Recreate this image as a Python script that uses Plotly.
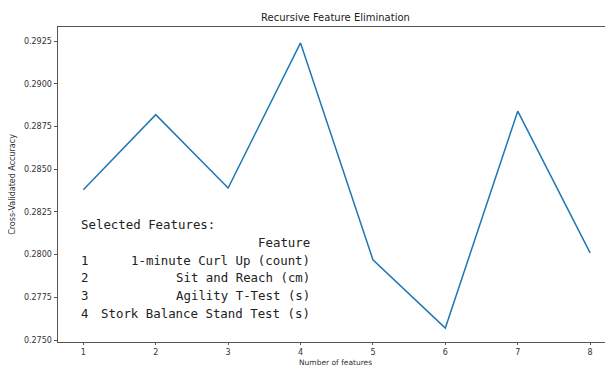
import plotly.graph_objects as go

n_features = [1, 2, 3, 4, 5, 6, 7, 8]
cv_accuracy = [0.2838, 0.2882, 0.2839, 0.2924, 0.2797, 0.2757, 0.2884, 0.2801]
y_ticks = [0.2750, 0.2775, 0.2800, 0.2825, 0.2850, 0.2875, 0.2900, 0.2925]
feature_idx = ["1", "2", "3", "4"]
feature_names = ["1-minute Curl Up (count)", "Sit and Reach (cm)",
                 "Agility T-Test (s)", "Stork Balance Stand Test (s)"]

OFF = 8  # default page body margin
W, H = 613 - OFF, 367 - OFF
L, R, T, B = 58 - OFF, 0, 27 - OFF, 25
pw, ph = W - L - R, H - T - B

def px(x):  # page x -> paper
    return (x - OFF - L) / pw

def py(y):  # page y -> paper
    return (H - B - (y - OFF)) / ph

fig = go.Figure()
fig.add_trace(go.Scatter(x=n_features, y=cv_accuracy, mode="lines",
                         line=dict(color="#1f77b4", width=1.5)))

mono = dict(family="DejaVu Sans Mono", size=12.4, color="#222")
ann = []
ann.append(dict(text="Selected Features:", x=px(79), y=py(224), xanchor="left"))
ann.append(dict(text="Feature", x=px(312), y=py(242), xanchor="right"))
for i, (idx, name) in enumerate(zip(feature_idx, feature_names)):
    yy = 260 + i * 17.8
    ann.append(dict(text=idx, x=px(79), y=py(yy), xanchor="left"))
    ann.append(dict(text=name, x=px(312), y=py(yy), xanchor="right"))
for a in ann:
    a.update(xref="paper", yref="paper", yanchor="middle", showarrow=False, font=mono)
ann.append(dict(text="Number of features", x=0.5, y=py(362), xref="paper", yref="paper",
                xanchor="center", yanchor="middle", showarrow=False, borderpad=0,
                font=dict(family="DejaVu Sans", size=7.5, color="#333")))

fig.update_layout(
    width=W, height=H,
    margin=dict(l=L, r=R, t=T, b=B),
    paper_bgcolor="white", plot_bgcolor="white",
    showlegend=False,
    font=dict(family="DejaVu Sans", color="#333"),
    title=dict(text="Recursive Feature Elimination", x=0.5, xref="paper",
               y=1 - (17 - OFF) / H, yanchor="middle", font=dict(size=10, color="#222")),
    annotations=ann,
)
fig.update_xaxes(range=[0.65, 8.316], tickvals=n_features, showgrid=False, zeroline=False,
                 showline=True, linecolor="#555", linewidth=1, mirror=True, automargin=False,
                 ticks="outside", ticklen=2, tickcolor="#555", tickfont=dict(size=8))
fig.update_yaxes(range=[0.274884, 0.293331], tickvals=y_ticks, tickformat=".4f",
                 showgrid=False, zeroline=False, automargin=False,
                 showline=True, linecolor="#555", linewidth=1,
                 ticks="outside", ticklen=3.5, tickcolor="#555", tickfont=dict(size=8),
                 title=dict(text="Cross-Validated Accuracy", font=dict(size=8), standoff=8))

fig.write_html("out.html")
